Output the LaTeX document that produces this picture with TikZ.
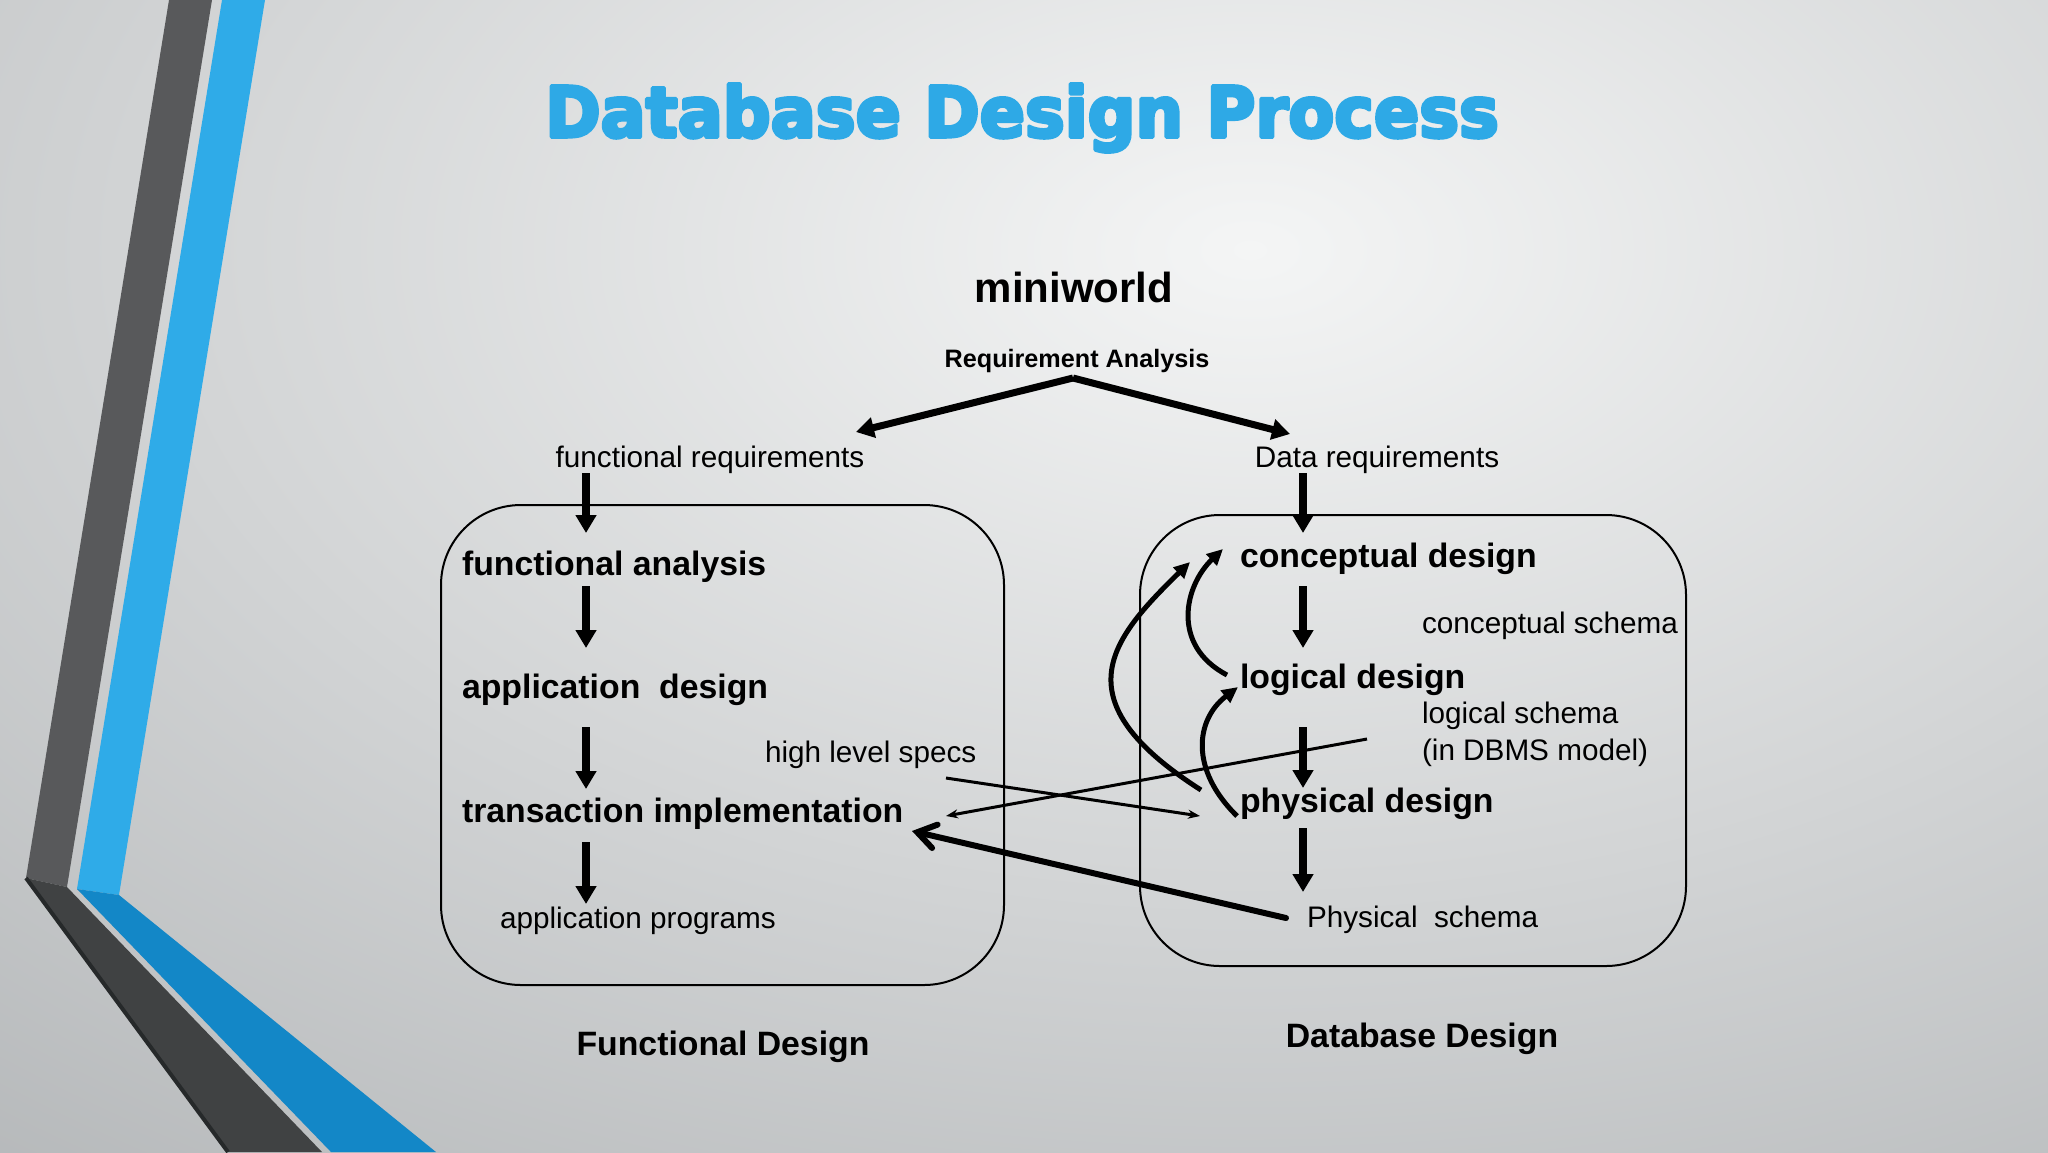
\documentclass[tikz,border=0pt]{standalone}
\usepackage{fontspec}
\setmainfont{Liberation Sans}
\newfontfamily\titlefont{DejaVu Sans}
\usetikzlibrary{arrows.meta}
\definecolor{bgin}{HTML}{F4F5F5}
\definecolor{bgout}{HTML}{B0B3B5}
\definecolor{darkband}{HTML}{58595B}
\definecolor{darkbandlow}{HTML}{404243}
\definecolor{darkedge}{HTML}{26292A}
\definecolor{blueband}{HTML}{2FABE8}
\definecolor{bluebandlow}{HTML}{1387C7}
\definecolor{titleblue}{HTML}{2EA9E6}
\newcommand{\heavytext}[1]{\special{pdf:literal direct q 2 Tr 1.8 w 1 j}#1\special{pdf:literal direct Q}}
\tikzset{
  plain/.style={inner sep=0pt, outer sep=0pt, font=\fontsize{14.85pt}{17pt}\selectfont},
  bold/.style={inner sep=0pt, outer sep=0pt, font=\fontsize{16.9pt}{20pt}\selectfont\bfseries},
  dbox/.style={draw=black, line width=1pt, rounded corners=40pt},
  downarrow/.style={line width=4pt, -{Triangle[length=9pt,width=10pt]}},
  reqarrow/.style={line width=3.5pt, -{Triangle[length=9pt,width=10pt]}},
  curvearrow/.style={line width=2.5pt, -{Triangle[length=8pt,width=7.5pt]}},
  thinarrow/.style={line width=1.5pt, -{Stealth[length=6pt,width=4.5pt]}},
  barbarrow/.style={line width=3pt, line cap=round, -{Straight Barb[length=9pt,width=12pt,line cap=round]}},
  titlestyle/.style={anchor=base, inner sep=0pt, text=titleblue}
}
\begin{document}
\begin{tikzpicture}[x=0.5pt,y=-0.5pt]
\useasboundingbox (0,0) rectangle (2048,1152);
% background
\begin{scope}
\clip (0,0) rectangle (2048,1152);
\shade[inner color=bgin, outer color=bgout] (1250,250) ellipse [x radius=2200, y radius=1300];
\end{scope}
% decorative bands
\fill[darkband] (169,0) -- (212,0) -- (67,887) -- (26,878) -- cycle;
\fill[darkbandlow] (26,878) -- (67,887) -- (322,1152) -- (228,1152) -- cycle;
\draw[darkedge, line width=2pt] (26,878) -- (228,1152);
\fill[blueband] (222,0) -- (265,0) -- (119,895) -- (77,889) -- cycle;
\fill[bluebandlow] (77,889) -- (119,895) -- (436,1152) -- (331,1152) -- cycle;
% title
\node[titlestyle] (title) at (1022,137)
  {\titlefont\bfseries\fontsize{35pt}{40pt}\selectfont\heavytext{\scalebox{0.955}[1]{Database Design Process}}};
% top texts
\node[anchor=base, inner sep=0pt, font=\fontsize{21pt}{24pt}\selectfont\bfseries] (mini) at (1074,302) {miniworld};
\node[anchor=base, inner sep=0pt, font=\fontsize{12.6pt}{15pt}\selectfont\bfseries] (reqana) at (1077,367) {Requirement Analysis};
\node[plain, anchor=base] (freq) at (710,467) {functional requirements};
\node[plain, anchor=base] (dreq) at (1377,467) {Data requirements};
% boxes
\draw[dbox] (441,505) rectangle (1004,985) node[pos=0.5, inner sep=0pt] (fbox) {};
\draw[dbox] (1140,515) rectangle (1686,966) node[pos=0.5, inner sep=0pt] (dbbox) {};
% left box texts
\node[bold, anchor=base west] (fana) at (462,575) {functional analysis};
\node[bold, anchor=base west] (appd) at (462,698) {application\ \ design};
\node[bold, anchor=base west] (tran) at (462,822) {transaction implementation};
\node[plain, anchor=base west] (appp) at (500,928) {application programs};
\node[plain, anchor=base west] (hls) at (765,762) {high level specs};
\node[bold, anchor=base] (fdes) at (723,1055) {Functional Design};
% right box texts
\node[bold, anchor=base west] (cdes) at (1240,567) {conceptual design};
\node[bold, anchor=base west] (ldes) at (1240,688) {logical design};
\node[bold, anchor=base west] (pdes) at (1240,812) {physical design};
\node[plain, anchor=base west] (cs) at (1422,633) {conceptual schema};
\node[plain, anchor=base west] (ls) at (1422,723) {logical schema};
\node[plain, anchor=base west] (dbms) at (1422,760) {(in DBMS model)};
\node[plain, anchor=base west] (ps) at (1307,927) {Physical\ \ schema};
\node[bold, anchor=base] (ddes) at (1422,1047) {Database Design};
% connector end points
\coordinate (apex) at (1073,378);
\coordinate (reqL) at (856,432);
\coordinate (reqR) at (1290,434);
\coordinate (f0s) at (586,473); \coordinate (f0e) at (586,533);
\coordinate (f1s) at (586,586); \coordinate (f1e) at (586,648);
\coordinate (f2s) at (586,727); \coordinate (f2e) at (586,789);
\coordinate (f3s) at (586,842); \coordinate (f3e) at (586,904);
\coordinate (d0s) at (1303,473); \coordinate (d0e) at (1303,533);
\coordinate (d1s) at (1303,586); \coordinate (d1e) at (1303,648);
\coordinate (d2s) at (1303,727); \coordinate (d2e) at (1303,788);
\coordinate (d3s) at (1303,828); \coordinate (d3e) at (1303,892);
\coordinate (c1s) at (1201,790); \coordinate (c1e) at (1190,562);
\coordinate (c2s) at (1227,675); \coordinate (c2e) at (1223,549);
\coordinate (c3s) at (1237,816); \coordinate (c3e) at (1238,687);
\coordinate (s1s) at (946,778); \coordinate (s1e) at (1200,816);
\coordinate (s2s) at (1367,739); \coordinate (s2e) at (946,816);
\coordinate (s3s) at (1286,918); \coordinate (s3e) at (912,831);
% requirement arrows
\draw[reqarrow] (apex) -- (reqL);
\draw[reqarrow] (apex) -- (reqR);
% vertical flow arrows
\draw[downarrow] (f0s) -- (f0e);
\draw[downarrow] (f1s) -- (f1e);
\draw[downarrow] (f2s) -- (f2e);
\draw[downarrow] (f3s) -- (f3e);
\draw[downarrow] (d0s) -- (d0e);
\draw[downarrow] (d1s) -- (d1e);
\draw[downarrow] (d2s) -- (d2e);
\draw[downarrow] (d3s) -- (d3e);
% feedback curves
\draw[curvearrow] (c1s) .. controls (1060,700) and (1110,640) .. (c1e);
\draw[curvearrow] (c2s) .. controls (1170,645) and (1185,585) .. (c2e);
\draw[curvearrow] (c3s) .. controls (1190,770) and (1195,720) .. (c3e);
% crossing arrows
\draw[thinarrow] (s1s) -- (s1e);
\draw[thinarrow] (s2s) -- (s2e);
\draw[barbarrow] (s3s) -- (s3e);
\end{tikzpicture}
\end{document}
